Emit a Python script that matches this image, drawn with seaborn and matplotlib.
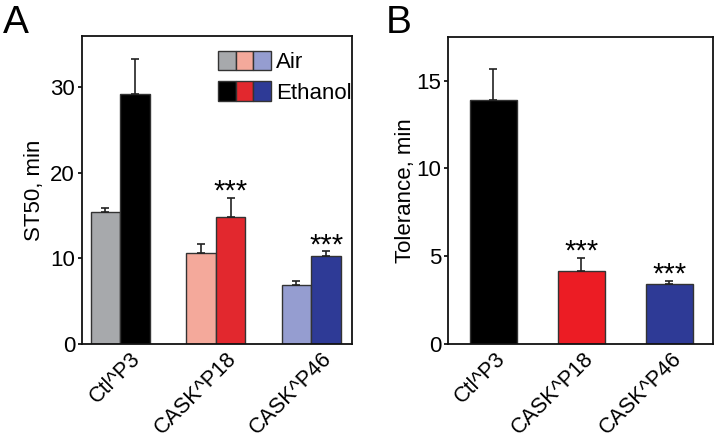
import numpy as np
import pandas as pd
import seaborn as sns
import matplotlib.pyplot as plt
import matplotlib.transforms as mtransforms
from matplotlib.patches import Rectangle
from matplotlib.legend_handler import HandlerTuple

genotypes = ["Ctl^P3", "CASK^P18", "CASK^P46"]
conditions = ["Air", "Ethanol"]
st50_air = [15.4, 10.6, 6.9]
st50_air_err = [0.5, 1.1, 0.4]
st50_eth = [29.2, 14.8, 10.3]
st50_eth_err = [4.1, 2.3, 0.5]
tolerance = [13.9, 4.15, 3.4]
tolerance_err = [1.75, 0.75, 0.2]

air_colors = ["#A7A9AC", "#F4A99B", "#959DD0"]
eth_colors = ["#000000", "#E2282E", "#2E3A96"]
tol_colors = ["#000000", "#EC1C24", "#2E3A96"]

sns.set_style("ticks")
plt.rcParams["font.family"] = ["Liberation Sans", "DejaVu Sans"]
plt.rcParams["text.color"] = "black"
plt.rcParams["axes.labelcolor"] = "black"
plt.rcParams["xtick.color"] = "black"
plt.rcParams["ytick.color"] = "black"

fig = plt.figure(figsize=(7.19, 4.42), dpi=100)
axA = fig.add_axes([0.114, 0.222, 0.376, 0.697])
axB = fig.add_axes([0.6235, 0.222, 0.3677, 0.695])


def add_err(ax, bar, e):
    xc = bar.get_x() + bar.get_width() / 2
    ax.errorbar(xc, bar.get_height(), yerr=[[0], [e]], color="#222222", capsize=3,
                elinewidth=1.2, capthick=1.2, zorder=1)


def add_stars(ax, bar, top):
    ax.annotate("***", (bar.get_x() + bar.get_width() / 2, top), xytext=(0, -2),
                textcoords="offset pixels", ha="center", va="baseline", fontsize=21)


# panel A
dfA = pd.DataFrame({
    "genotype": genotypes * 2,
    "condition": ["Air"] * 3 + ["Ethanol"] * 3,
    "value": st50_air + st50_eth,
})
sns.barplot(data=dfA, x="genotype", y="value", hue="condition", hue_order=conditions,
            order=genotypes, width=0.62, gap=0, errorbar=None, ax=axA, legend=False,
            edgecolor="#333333", linewidth=1.0, saturation=1)
for cont, cols, errs in zip(axA.containers, [air_colors, eth_colors], [st50_air_err, st50_eth_err]):
    for bar, c, e in zip(cont, cols, errs):
        bar.set_facecolor(c)
        add_err(axA, bar, e)
for i in (1, 2):
    add_stars(axA, axA.containers[1][i], st50_eth[i] + st50_eth_err[i])
axA.set_ylim(0, 36)
axA.set_xlim(-0.4, 2.43)
axA.set_yticks([0, 10, 20, 30])
axA.set_ylabel("ST50, min", fontsize=16)

handles = [tuple(Rectangle((0, 0), 1, 1, facecolor=c, edgecolor="#333333", linewidth=1.0) for c in air_colors),
           tuple(Rectangle((0, 0), 1, 1, facecolor=c, edgecolor="#333333", linewidth=1.0) for c in eth_colors)]
axA.legend(handles, conditions, handler_map={tuple: HandlerTuple(ndivide=None, pad=0)},
           loc="upper left", bbox_to_anchor=(0.504, 0.95), borderaxespad=0, borderpad=0,
           frameon=False, fontsize=16, handlelength=2.36, handleheight=0.95,
           handletextpad=0.23, labelspacing=0.36)

# panel B
dfB = pd.DataFrame({"genotype": genotypes, "value": tolerance})
sns.barplot(data=dfB, x="genotype", y="value", hue="genotype", palette=tol_colors,
            order=genotypes, width=0.53, errorbar=None, ax=axB, legend=False,
            edgecolor="#333333", linewidth=1.0, saturation=1)
for bar, e in zip(axB.patches, tolerance_err):
    add_err(axB, bar, e)
for i in (1, 2):
    add_stars(axB, axB.patches[i], tolerance[i] + tolerance_err[i])
axB.set_ylim(0, 17.5)
axB.set_xlim(-0.51, 2.49)
axB.set_yticks([0, 5, 10, 15])
axB.set_ylabel("Tolerance, min", fontsize=16, labelpad=0)

for ax, dx in ((axA, 10), (axB, 2)):
    ax.set_xlabel("")
    for s in ax.spines.values():
        s.set_linewidth(1.3)
        s.set_color("#111111")
    ax.tick_params(axis="y", labelsize=16, length=3, width=1.2, direction="out", pad=2)
    ax.tick_params(axis="x", labelsize=15.5, length=0, pad=3)
    shift = mtransforms.ScaledTranslation(dx / 100, 0, fig.dpi_scale_trans)
    for lab in ax.get_xticklabels():
        lab.set_rotation(45)
        lab.set_ha("right")
        lab.set_rotation_mode("anchor")
        lab.set_transform(lab.get_transform() + shift)

fig.text(3 / 719, 1 - 33 / 442, "A", fontsize=28, ha="left", va="baseline")
fig.text(386 / 719, 1 - 33 / 442, "B", fontsize=28, ha="left", va="baseline")

fig.savefig("out.png", dpi=100)
